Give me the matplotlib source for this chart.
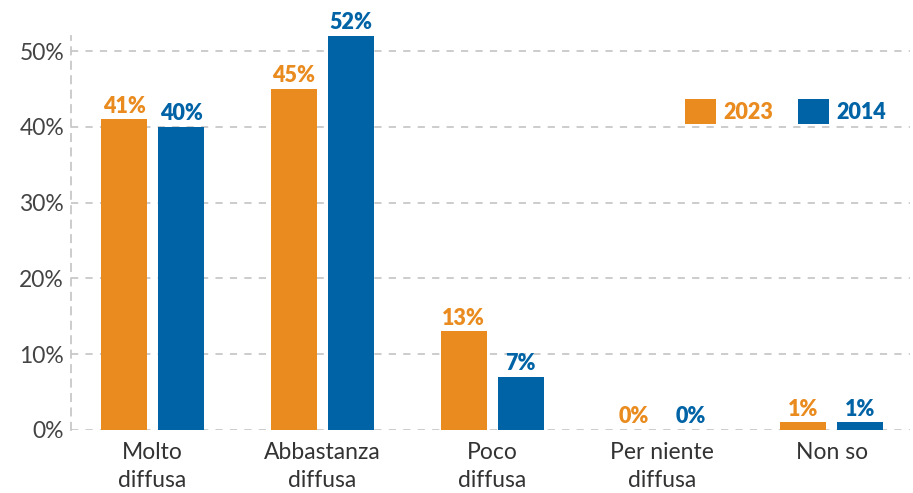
import numpy as np
import matplotlib.pyplot as plt

categories = ['Molto\ndiffusa', 'Abbastanza\ndiffusa', 'Poco\ndiffusa', 'Per niente\ndiffusa', 'Non so']
vals_2023 = [41, 45, 13, 0, 1]
vals_2014 = [40, 52, 7, 0, 1]
yticks = [0, 10, 20, 30, 40, 50]

ORANGE = '#E98B1E'
BLUE = '#0063A6'
GRID = '#C8C8C8'

plt.rcParams['font.family'] = ['Lato', 'DejaVu Sans']

fig = plt.figure(figsize=(9.13, 4.93), dpi=100)
ax = fig.add_axes([0.0778, 0.1278, 0.9189, 0.7992])

x = np.arange(len(categories))
w = 0.271
off = 0.168

b1 = ax.bar(x - off, vals_2023, w, color=ORANGE, label='2023', zorder=3)
b2 = ax.bar(x + off, vals_2014, w, color=BLUE, label='2014', zorder=3)

for bars, vals, col in [(b1, vals_2023, ORANGE), (b2, vals_2014, BLUE)]:
    for bar, v in zip(bars, vals):
        ax.annotate(f'{v}%', (bar.get_x() + bar.get_width() / 2, v),
                    xytext=(0, 2), textcoords='offset points',
                    ha='center', va='bottom', color=col,
                    fontsize=15.5, fontweight='heavy')

ax.set_xlim(-0.48, 4.46)
ax.set_ylim(0, 52)
ax.set_yticks(yticks)
ax.set_yticklabels([f'{t}%' for t in yticks], fontsize=16.5, color='#444444')
ax.set_xticks(x)
ax.set_xticklabels(categories, fontsize=16.5, color='#333333', linespacing=1.4)
ax.tick_params(axis='both', length=0)
ax.tick_params(axis='x', pad=9)
ax.tick_params(axis='y', pad=5)

ax.yaxis.grid(True, color=GRID, linestyle=(0, (4, 4)), linewidth=1.3, zorder=0)
for s in ['top', 'right', 'bottom']:
    ax.spines[s].set_visible(False)
ax.spines['left'].set_color(GRID)
ax.spines['left'].set_linestyle((0, (4, 4)))
ax.spines['left'].set_linewidth(1.3)

leg = ax.legend(loc='upper right', bbox_to_anchor=(0.995, 0.89), ncol=2, frameon=False,
                handlelength=1.45, handleheight=1.45, handletextpad=0.35, columnspacing=1.15,
                prop={'size': 15.5, 'weight': 'heavy'})
for t, c in zip(leg.get_texts(), [ORANGE, BLUE]):
    t.set_color(c)

fig.savefig('out.png', dpi=100)
